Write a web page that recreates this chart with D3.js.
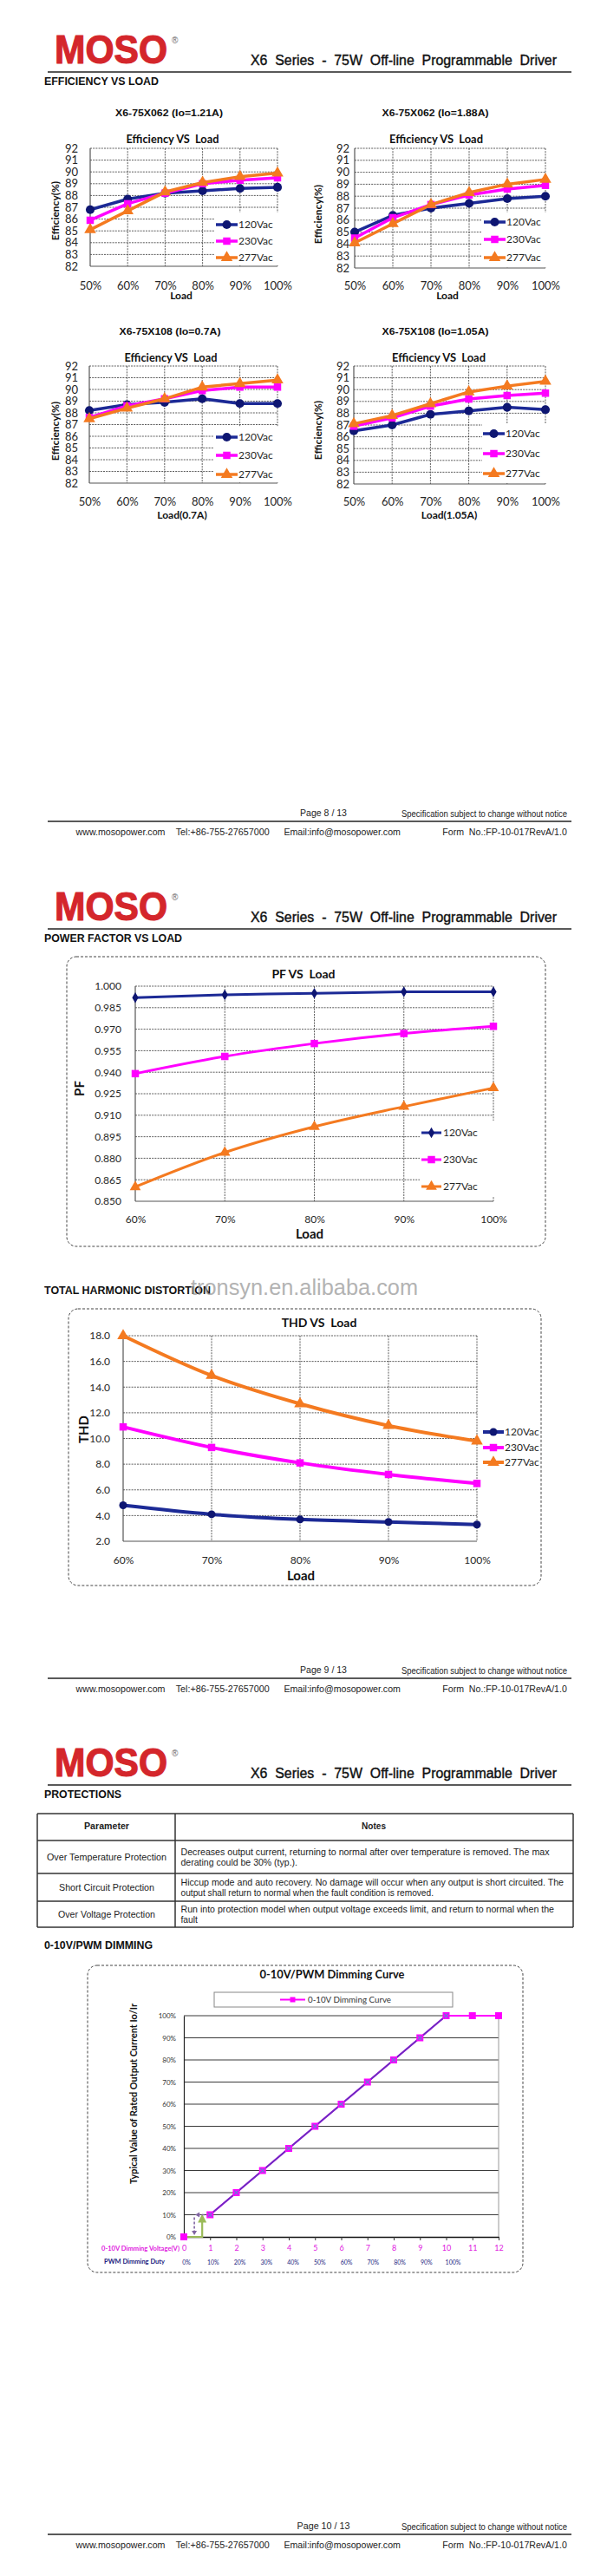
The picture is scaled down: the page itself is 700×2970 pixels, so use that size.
<!DOCTYPE html>
<html>
<head>
<meta charset="utf-8">
<script src="https://cdn.jsdelivr.net/npm/d3@7"></script>
<style>
html, body { margin: 0; padding: 0; background: #fff; }
svg { display: block; }
text { white-space: pre; }
</style>
</head>
<body>
<div id="chart"></div>
<script>
// Data: efficiency vs load (four models)
const effLoads = ["50%", "60%", "70%", "80%", "90%", "100%"];
const effTicks = [82, 83, 84, 85, 86, 87, 88, 89, 90, 91, 92];
const seriesNames = ["120Vac", "230Vac", "277Vac"];

const eff121_120 = [86.8, 87.7, 88.2, 88.4, 88.6, 88.7];
const eff121_230 = [85.9, 87.3, 88.2, 89.0, 89.3, 89.5];
const eff121_277 = [85.1, 86.7, 88.3, 89.1, 89.6, 89.9];

const eff188_120 = [85.0, 86.4, 87.0, 87.4, 87.8, 88.0];
const eff188_230 = [84.5, 86.2, 87.3, 88.1, 88.6, 88.9];
const eff188_277 = [84.1, 85.7, 87.3, 88.3, 89.0, 89.4];

const eff070_120 = [88.2, 88.7, 88.9, 89.2, 88.8, 88.8];
const eff070_230 = [87.6, 88.6, 89.2, 89.9, 90.2, 90.2];
const eff070_277 = [87.5, 88.4, 89.2, 90.2, 90.5, 90.8];

const eff105_120 = [86.5, 87.0, 87.9, 88.2, 88.5, 88.3];
const eff105_230 = [86.9, 87.6, 88.6, 89.2, 89.5, 89.7];
const eff105_277 = [87.1, 87.8, 88.8, 89.8, 90.3, 90.7];

// Power factor / THD vs load
const pfLoads = ["60%", "70%", "80%", "90%", "100%"];
const pfTicks = [0.850, 0.865, 0.880, 0.895, 0.910, 0.925, 0.940, 0.955, 0.970, 0.985, 1.000];
const pf120 = [0.992, 0.994, 0.995, 0.996, 0.996];
const pf230 = [0.939, 0.951, 0.960, 0.967, 0.972];
const pf277 = [0.860, 0.884, 0.902, 0.916, 0.929];

const thdTicks = [2, 4, 6, 8, 10, 12, 14, 16, 18];
const thd120 = [4.8, 4.1, 3.7, 3.5, 3.3];
const thd230 = [10.9, 9.3, 8.1, 7.2, 6.5];
const thd277 = [18.0, 14.9, 12.7, 11.0, 9.8];

// Dimming curve
const dimVolts = [0, 1, 2, 3, 4, 5, 6, 7, 8, 9, 10, 11, 12];
const dimLevels = [0, 10, 20, 30, 40, 50, 60, 70, 80, 90, 100, 100, 100];
const dimTicks = [0, 10, 20, 30, 40, 50, 60, 70, 80, 90, 100];
const pwmVolts = [1, 2, 3, 4, 5, 6, 7, 8, 9, 10];
const pwmLevels = [10, 20, 30, 40, 50, 60, 70, 80, 90, 100];
const pwmDuty = ["0%", "10%", "20%", "30%", "40%", "50%", "60%", "70%", "80%", "90%", "100%"];
const hystOnVolt = 0.7;
const hystOffVolt = 0.4;
const hystLevel = 10;

// Protections table
const protParams = ["Over Temperature Protection", "Short Circuit Protection", "Over Voltage Protection"];
const protNotes = [
    ["Decreases output current, returning to normal after over temperature is removed. The max", "derating could be 30% (typ.)."],
    ["Hiccup mode and auto recovery. No damage will occur when any output is short circuited. The", "output shall return to normal when the fault condition is removed."],
    ["Run into protection model when output voltage exceeds limit, and return to normal when the", "fault"]
];

// Page furniture
const pageTops = [0, 988, 1975];
const pageLabels = ["Page 8 / 13", "Page 9 / 13", "Page 10 / 13"];
const sectionTitles = ["EFFICIENCY VS LOAD", "POWER FACTOR VS LOAD", "PROTECTIONS"];
const footerItems = ["www.mosopower.com", "Tel:+86-755-27657000", "Email:info@mosopower.com", "Form  No.:FP-10-017RevA/1.0"];

// Fonts / colours
const NARROW = "'Liberation Sans Narrow', 'Arial Narrow', 'Liberation Sans', Arial, sans-serif";
const ARIAL = "'Liberation Sans', Arial, sans-serif";
const CAL = "Lato, 'Open Sans', 'Noto Sans', sans-serif";
const NAVY = "#1c2a96", NAVY_MK = "#0e1672", MAGENTA = "#ff00ff", ORANGE = "#f47a20";

const W = 700, H = 2970;
const svg = d3.select("#chart").append("svg")
    .attr("width", W).attr("height", H).attr("viewBox", `0 0 ${W} ${H}`);
svg.append("rect").attr("width", W).attr("height", H).attr("fill", "#fff");

function label(g, x, y, s, o = {}) {
    const t = g.append("text").attr("x", x).attr("y", y).text(s)
        .attr("font-family", o.font || ARIAL)
        .attr("font-size", o.size || 11)
        .attr("font-weight", o.weight || "normal")
        .attr("fill", o.fill || "#222")
        .attr("text-anchor", o.anchor || "start");
    if (o.len) t.attr("textLength", o.len).attr("lengthAdjust", "spacingAndGlyphs");
    if (o.rotate) t.attr("transform", `rotate(-90 ${x} ${y})`);
    if (o.dy) t.attr("dy", o.dy);
    if (o.opacity) t.attr("opacity", o.opacity);
    return t;
}

function hline(g, x1, x2, y, stroke, w) {
    return g.append("line").attr("x1", x1).attr("x2", x2).attr("y1", y).attr("y2", y)
        .attr("stroke", stroke).attr("stroke-width", w);
}

function dashedBox(x0, y0, x1, y1) {
    svg.append("rect").attr("x", x0).attr("y", y0).attr("width", x1 - x0).attr("height", y1 - y0)
        .attr("rx", 11).attr("fill", "none").attr("stroke", "#444")
        .attr("stroke-width", 1).attr("stroke-dasharray", "3,2");
}

// Headers and footers
const sectionWidths = [132, 159, 89];
const footerX = [87.5, 202.7, 327.4, 510.3];
const footerW = [103, 108, 134.5, 143.5];

pageTops.forEach((P, i) => {
    const g = svg.append("g");
    label(g, 63, P + 73, "MOSO", { font: NARROW, size: 46, weight: "bold", fill: "#d4262b", len: 130 })
        .attr("stroke", "#d4262b").attr("stroke-width", 1.2);
    label(g, 198, P + 50, "®", { size: 10, fill: "#666" });
    label(g, 289, P + 75, "X6  Series  -  75W  Off-line  Programmable  Driver", { font: NARROW, size: 16, len: 353, fill: "#111" })
        .attr("stroke", "#111").attr("stroke-width", 0.4);
    hline(g, 55, 659, P + 83, "#222", 1.6);
    label(g, 51, P + 98, sectionTitles[i], { font: NARROW, size: 12, weight: "bold", len: sectionWidths[i], fill: "#111" });

    label(g, 373, P + 941, pageLabels[i], { font: NARROW, size: 11, anchor: "middle", len: i === 2 ? 61 : 54 });
    label(g, 463, P + 942, "Specification subject to change without notice", { font: NARROW, size: 10, len: 191 });
    hline(g, 55, 659, P + 947, "#222", 1.6);
    footerItems.forEach((f, k) => {
        label(g, footerX[k], P + 963, f, { font: NARROW, size: 10.5, len: footerW[k] });
    });
});

// Generic line chart
function lineChart(cfg) {
    const g = svg.append("g");
    const x = d3.scalePoint().domain(cfg.cats).range([cfg.x0, cfg.x1]);
    const y = d3.scaleLinear().domain(cfg.yDomain).range([cfg.yBot, cfg.yTop]);

    g.append("g").selectAll("line").data(cfg.ticks.slice(1)).join("line")
        .attr("x1", cfg.x0).attr("x2", cfg.x1)
        .attr("y1", d => y(d)).attr("y2", d => y(d))
        .attr("stroke", "#333").attr("stroke-width", 0.8).attr("stroke-dasharray", "2,1.2");
    g.append("g").selectAll("line").data(cfg.cats.slice(1)).join("line")
        .attr("x1", d => x(d)).attr("x2", d => x(d))
        .attr("y1", cfg.yTop).attr("y2", cfg.yBot)
        .attr("stroke", "#333").attr("stroke-width", 0.8).attr("stroke-dasharray", "2,1.2");
    g.append("line").attr("x1", cfg.x0).attr("x2", cfg.x0).attr("y1", cfg.yTop).attr("y2", cfg.yBot)
        .attr("stroke", "#555").attr("stroke-width", 1.2);
    hline(g, cfg.x0, cfg.x1, cfg.yBot, "#555", 1.2);

    const yAxis = g.append("g").attr("transform", `translate(${cfg.x0},0)`)
        .call(d3.axisLeft(y).tickValues(cfg.ticks).tickSize(0).tickPadding(cfg.yPad).tickFormat(cfg.fmt));
    yAxis.select(".domain").remove();
    yAxis.attr("font-family", CAL).attr("font-size", cfg.tickSize);
    yAxis.selectAll("text").attr("fill", "#262626");

    const xAxis = g.append("g").attr("transform", `translate(0,${cfg.yBot})`)
        .call(d3.axisBottom(x).tickSize(0));
    xAxis.select(".domain").remove();
    xAxis.attr("font-family", CAL).attr("font-size", cfg.tickSize);
    xAxis.selectAll("text").attr("dy", null).attr("y", cfg.xLabY - cfg.yBot).attr("fill", "#262626");

    const lg = cfg.legend;
    if (lg.clear) {
        g.append("rect").attr("x", lg.clear[0]).attr("y", lg.clear[1])
            .attr("width", lg.clear[2] - lg.clear[0]).attr("height", lg.clear[3] - lg.clear[1])
            .attr("fill", "#fff");
    }

    cfg.series.forEach(s => {
        const line = d3.line().x((d, i) => x(cfg.cats[i])).y(d => y(d)).curve(cfg.curve);
        g.append("path").datum(s.values).attr("d", line)
            .attr("fill", "none").attr("stroke", s.color)
            .attr("stroke-width", cfg.lineW).attr("stroke-linejoin", "round");
        g.append("g").selectAll("path").data(s.values).join("path")
            .attr("transform", (d, i) => `translate(${x(cfg.cats[i])},${y(d)})`)
            .attr("d", d3.symbol(s.symbol, s.size)).attr("fill", s.mark);
    });

    cfg.series.forEach((s, i) => {
        const ly = lg.ys[i];
        hline(g, lg.lx0, lg.lx1, ly, s.color, cfg.lineW);
        g.append("path").attr("transform", `translate(${(lg.lx0 + lg.lx1) / 2},${ly})`)
            .attr("d", d3.symbol(s.symbol, s.size)).attr("fill", s.mark);
        label(g, lg.tx, ly, s.name, { font: CAL, size: lg.size, fill: "#262626", dy: "0.36em" });
    });
    return { g, x, y };
}

function effSeries(values, sizes) {
    return [
        { name: seriesNames[0], values: values[0], color: NAVY, mark: NAVY_MK, symbol: d3.symbolCircle, size: sizes[0] },
        { name: seriesNames[1], values: values[1], color: MAGENTA, mark: MAGENTA, symbol: d3.symbolSquare, size: sizes[1] },
        { name: seriesNames[2], values: values[2], color: ORANGE, mark: ORANGE, symbol: d3.symbolTriangle, size: sizes[2] }
    ];
}

// Efficiency charts
const effCharts = [
    { title: "X6-75X062 (Io=1.21A)", tw: 124, values: [eff121_120, eff121_230, eff121_277],
      x0: 104, x1: 320, yTop: 171, yBot: 307, tx: 195, ty: 134, ex: 199, ey: 165, ew: 107,
      xl: "Load", xlx: 209, xly: 345, ytx: 68, yty: 243, xLabY: 334, yPad: 14,
      legend: { clear: [247, 245, 322, 306], lx0: 249, lx1: 274, tx: 275, ys: [259, 278, 297], size: 12 } },
    { title: "X6-75X062 (Io=1.88A)", tw: 123, values: [eff188_120, eff188_230, eff188_277],
      x0: 409, x1: 629, yTop: 171, yBot: 309, tx: 502, ty: 134, ex: 503, ey: 165, ew: 108,
      xl: "Load", xlx: 516, xly: 345, ytx: 371, yty: 247, xLabY: 334, yPad: 6,
      legend: { clear: [556, 245, 631, 308], lx0: 558, lx1: 583, tx: 584, ys: [256, 276, 297], size: 12 } },
    { title: "X6-75X108 (Io=0.7A)", tw: 117, values: [eff070_120, eff070_230, eff070_277],
      x0: 103, x1: 320, yTop: 422, yBot: 557, tx: 196, ty: 386, ex: 197, ey: 417, ew: 107,
      xl: "Load(0.7A)", xlx: 210, xly: 598, ytx: 68, yty: 497, xLabY: 583, yPad: 13,
      legend: { clear: [247, 492, 322, 556], lx0: 249, lx1: 274, tx: 275, ys: [504, 525, 547], size: 12 } },
    { title: "X6-75X108 (Io=1.05A)", tw: 123, values: [eff105_120, eff105_230, eff105_277],
      x0: 408, x1: 629, yTop: 422, yBot: 558, tx: 502, ty: 386, ex: 506, ey: 417, ew: 108,
      xl: "Load(1.05A)", xlx: 518, xly: 598, ytx: 371, yty: 496, xLabY: 583, yPad: 5,
      legend: { clear: [556, 489, 631, 557], lx0: 557, lx1: 582, tx: 583, ys: [500, 523, 546], size: 12 } }
];

effCharts.forEach(c => {
    const r = lineChart({
        cats: effLoads, ticks: effTicks, yDomain: [82, 92], fmt: d3.format("d"),
        x0: c.x0, x1: c.x1, yTop: c.yTop, yBot: c.yBot, yPad: c.yPad, xLabY: c.xLabY,
        tickSize: 13, lineW: 3.5, curve: d3.curveLinear,
        series: effSeries(c.values, [80, 72, 80]), legend: c.legend
    });
    label(r.g, c.tx, c.ty, c.title, { size: 11, weight: "bold", anchor: "middle", len: c.tw, fill: "#111" });
    label(r.g, c.ex, c.ey, "Efficiency VS  Load", { font: CAL, size: 12.5, weight: "bold", anchor: "middle", len: c.ew, fill: "#111" });
    label(r.g, c.xlx, c.xly, c.xl, { font: CAL, size: 12, weight: "bold", anchor: "middle", fill: "#111" });
    label(r.g, c.ytx, c.yty, "Efficiency(%)", { font: CAL, size: 12, weight: "bold", anchor: "middle", rotate: true, fill: "#111" });
});

// PF chart
dashedBox(77, 1103, 629, 1437);
const pf = lineChart({
    cats: pfLoads, ticks: pfTicks, yDomain: [0.85, 1.0], fmt: d3.format(".3f"),
    x0: 156, x1: 569, yTop: 1137, yBot: 1385, yPad: 16, xLabY: 1410,
    tickSize: 12, lineW: 3, curve: d3.curveCatmullRom,
    series: [
        { name: seriesNames[0], values: pf120, color: NAVY, mark: NAVY_MK, symbol: d3.symbolDiamond, size: 45 },
        { name: seriesNames[1], values: pf230, color: MAGENTA, mark: MAGENTA, symbol: d3.symbolSquare, size: 72 },
        { name: seriesNames[2], values: pf277, color: ORANGE, mark: ORANGE, symbol: d3.symbolTriangle, size: 70 }
    ],
    legend: { clear: [484, 1292, 571, 1380], lx0: 486, lx1: 509, tx: 511, ys: [1306, 1337, 1368], size: 12 }
});
label(pf.g, 350, 1128, "PF VS  Load", { font: CAL, size: 14, weight: "bold", anchor: "middle", fill: "#111" });
label(pf.g, 357, 1428, "Load", { font: CAL, size: 15, weight: "bold", anchor: "middle", fill: "#111" });
label(pf.g, 97, 1255, "PF", { font: CAL, size: 15, weight: "bold", anchor: "middle", rotate: true, fill: "#111" });

// THD section
const thdSec = svg.append("g");
label(thdSec, 51, 1492, "TOTAL HARMONIC DISTORTION", { font: NARROW, size: 12, weight: "bold", len: 192, fill: "#111" });
label(thdSec, 220, 1493, "tronsyn.en.alibaba.com", { size: 25, len: 262, fill: "#9a9a9a", opacity: 0.75 });
dashedBox(79, 1509, 624, 1828);
const thd = lineChart({
    cats: pfLoads, ticks: thdTicks, yDomain: [2, 18], fmt: d3.format(".1f"),
    x0: 142, x1: 550, yTop: 1540, yBot: 1777, yPad: 15, xLabY: 1803,
    tickSize: 12, lineW: 4, curve: d3.curveCatmullRom,
    series: [
        { name: seriesNames[0], values: thd120, color: NAVY, mark: NAVY_MK, symbol: d3.symbolCircle, size: 64 },
        { name: seriesNames[1], values: thd230, color: MAGENTA, mark: MAGENTA, symbol: d3.symbolSquare, size: 72 },
        { name: seriesNames[2], values: thd277, color: ORANGE, mark: ORANGE, symbol: d3.symbolTriangle, size: 80 }
    ],
    legend: { lx0: 557, lx1: 581, tx: 582, ys: [1651, 1669, 1686], size: 12 }
});
label(thd.g, 368, 1530, "THD VS  Load", { font: CAL, size: 14, weight: "bold", anchor: "middle", fill: "#111" });
label(thd.g, 347, 1822, "Load", { font: CAL, size: 15, weight: "bold", anchor: "middle", fill: "#111" });
label(thd.g, 102, 1648, "THD", { font: CAL, size: 15, weight: "bold", anchor: "middle", rotate: true, fill: "#111" });

// Protections table
const tbl = svg.append("g");
const colX = [43, 202, 661];
const rowY = [2091, 2122, 2160, 2192, 2222];
rowY.forEach(yy => hline(tbl, colX[0], colX[2], yy, "#333", 1.5));
colX.forEach(xx => tbl.append("line").attr("x1", xx).attr("x2", xx).attr("y1", rowY[0]).attr("y2", rowY[4])
    .attr("stroke", "#333").attr("stroke-width", 1.5));
label(tbl, 123, 2109, "Parameter", { font: NARROW, size: 11, weight: "bold", anchor: "middle", len: 52 });
label(tbl, 431, 2109, "Notes", { font: NARROW, size: 11, weight: "bold", anchor: "middle", len: 28 });
const paramW = [138, 110, 112];
const noteW = [[425, 134.5], [441.5, 291.5], [430.5, 19.5]];
protParams.forEach((p, i) => {
    const mid = (rowY[i + 1] + rowY[i + 2]) / 2;
    label(tbl, 123, mid + 4, p, { font: NARROW, size: 11, anchor: "middle", len: paramW[i] });
    protNotes[i].forEach((n, k) => {
        label(tbl, 208.5, mid - 2 + k * 12, n, { font: NARROW, size: 10.5, len: noteW[i][k] });
    });
});
label(tbl, 51, 2247, "0-10V/PWM DIMMING", { font: NARROW, size: 12, weight: "bold", len: 125, fill: "#111" });

// Dimming chart
dashedBox(101, 2266, 603, 2620);
(function dimmingChart() {
    const g = svg.append("g");
    const x = d3.scaleLinear().domain([0, 12]).range([212, 575]);
    const y = d3.scaleLinear().domain([0, 100]).range([2579, 2324]);
    const duty = d3.scaleLinear().domain([0, 10]).range([x(0) + 3, x(10) + 8]);

    label(g, 383, 2281, "0-10V/PWM Dimming Curve", { font: CAL, size: 13, weight: "bold", anchor: "middle", len: 167, fill: "#111" });
    g.append("rect").attr("x", 247).attr("y", 2297).attr("width", 275).attr("height", 17)
        .attr("fill", "#fff").attr("stroke", "#888").attr("stroke-width", 1);
    hline(g, 323, 352, 2305.5, MAGENTA, 2);
    g.append("path").attr("transform", "translate(337.5,2305.5)").attr("d", d3.symbol(d3.symbolSquare, 36)).attr("fill", MAGENTA);
    label(g, 355, 2305.5, "0-10V Dimming Curve", { font: CAL, size: 9.5, len: 96, fill: "#333", dy: "0.35em" });

    g.append("g").selectAll("line").data(dimTicks.slice(1)).join("line")
        .attr("x1", x(0)).attr("x2", x(12)).attr("y1", d => y(d)).attr("y2", d => y(d))
        .attr("stroke", "#3a3a3a").attr("stroke-width", 1.1);
    g.append("line").attr("x1", x(12)).attr("x2", x(12)).attr("y1", y(100)).attr("y2", y(0))
        .attr("stroke", "#999").attr("stroke-width", 1);

    const ya = g.append("g").attr("transform", `translate(${x(0)},0)`)
        .call(d3.axisLeft(y).tickValues(dimTicks).tickSize(0).tickSizeOuter(0).tickPadding(9).tickFormat(d => d + "%"));
    ya.select(".domain").attr("stroke", "#222").attr("stroke-width", 1.2);
    ya.attr("font-family", CAL).attr("font-size", 8);
    ya.selectAll("text").attr("fill", "#333");

    const xa = g.append("g").attr("transform", `translate(0,${y(0)})`)
        .call(d3.axisBottom(x).tickValues(dimVolts).tickSize(4).tickSizeOuter(0).tickFormat(d3.format("d")));
    xa.select(".domain").attr("stroke", "#111").attr("stroke-width", 1.5);
    xa.selectAll(".tick line").attr("stroke", "#333");
    xa.attr("font-family", CAL).attr("font-size", 9);
    xa.selectAll("text").attr("dy", null).attr("y", 16).attr("fill", "#e020e0");

    label(g, 207, 2595, "0-10V Dimming Voltage(V)", { font: CAL, size: 8, weight: "bold", anchor: "end", len: 90, fill: "#e020e0" });
    label(g, 120, 2610, "PWM Dimming Duty", { font: CAL, size: 8, weight: "bold", len: 70, fill: "#1c1c80" });
    g.append("g").selectAll("text").data(pwmDuty).join("text")
        .attr("x", (d, i) => duty(i)).attr("y", 2611).text(d => d)
        .attr("font-family", CAL).attr("font-size", 7).attr("fill", "#1c1c80").attr("text-anchor", "middle");

    const mag = dimVolts.map((v, i) => [v, dimLevels[i]]).filter(d => d[0] >= 1);
    g.append("path").datum(mag).attr("d", d3.line().x(d => x(d[0])).y(d => y(d[1])))
        .attr("fill", "none").attr("stroke", MAGENTA).attr("stroke-width", 2);
    const pwm = pwmVolts.map((v, i) => [v, pwmLevels[i]]);
    g.append("path").datum(pwm).attr("d", d3.line().x(d => x(d[0])).y(d => y(d[1])))
        .attr("fill", "none").attr("stroke", "#6a2fc0").attr("stroke-width", 1.8);

    // hysteresis marks near the turn-on point
    const green = "#9bbb59", purple = "#8064a2";
    g.append("path").attr("d", `M${x(0)},${y(0)}H${x(hystOnVolt)}V${y(hystLevel) + 8}`)
        .attr("fill", "none").attr("stroke", green).attr("stroke-width", 2.2);
    g.append("path").attr("d", `M${x(hystOnVolt) - 5},${y(hystLevel) + 9}L${x(hystOnVolt)},${y(hystLevel) - 1}L${x(hystOnVolt) + 5},${y(hystLevel) + 9}Z`)
        .attr("fill", green);
    g.append("path").attr("d", `M${x(0.95)},${y(hystLevel)}H${x(hystOffVolt) + 5}`)
        .attr("stroke", purple).attr("stroke-width", 1.6).attr("stroke-dasharray", "3,2").attr("fill", "none");
    g.append("path").attr("d", `M${x(hystOffVolt) + 6},${y(hystLevel) - 3}L${x(hystOffVolt) + 1},${y(hystLevel)}L${x(hystOffVolt) + 6},${y(hystLevel) + 3}Z`)
        .attr("fill", purple);
    g.append("path").attr("d", `M${x(hystOffVolt)},${y(hystLevel) + 3}V${y(0) - 6}`)
        .attr("stroke", purple).attr("stroke-width", 1.6).attr("stroke-dasharray", "3,2").attr("fill", "none");
    g.append("path").attr("d", `M${x(hystOffVolt) - 3},${y(0) - 7}L${x(hystOffVolt)},${y(0) - 2}L${x(hystOffVolt) + 3},${y(0) - 7}Z`)
        .attr("fill", purple);

    g.append("g").selectAll("path").data(dimVolts).join("path")
        .attr("transform", (d, i) => `translate(${x(d)},${y(dimLevels[i])})`)
        .attr("d", d3.symbol(d3.symbolSquare, 64)).attr("fill", MAGENTA);
    const times = d3.symbolTimes || d3.symbolCross;
    g.append("g").selectAll("path").data(pwmVolts).join("path")
        .attr("transform", (d, i) => `translate(${x(d)},${y(pwmLevels[i])})`)
        .attr("d", d3.symbol(times, 18)).attr("fill", "none").attr("stroke", "#6d78d8").attr("stroke-width", 1.2);

    label(g, 158, 2414, "Typical Value of Rated Output Current Io/Ir", { font: CAL, size: 10.5, weight: "bold", anchor: "middle", rotate: true, len: 208, fill: "#111" });
})();
</script>
</body>
</html>
